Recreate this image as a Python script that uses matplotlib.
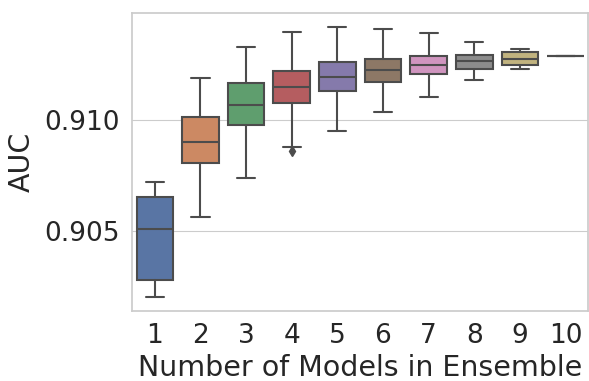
import matplotlib
matplotlib.use("Agg")
import matplotlib.pyplot as plt
import seaborn as sns

n_models = [1, 2, 3, 4, 5, 6, 7, 8, 9, 10]
whislo = [0.90203, 0.90564, 0.90739, 0.90880, 0.90952, 0.91035, 0.91104, 0.91180, 0.91231, 0.91287]
q1 = [0.90279, 0.90805, 0.90976, 0.91077, 0.91132, 0.91171, 0.91206, 0.91230, 0.91248, 0.91287]
med = [0.90509, 0.90902, 0.91069, 0.91150, 0.91192, 0.91227, 0.91249, 0.91264, 0.91276, 0.91287]
q3 = [0.90655, 0.91012, 0.91167, 0.91219, 0.91261, 0.91276, 0.91288, 0.91293, 0.91305, 0.91287]
whishi = [0.90722, 0.91189, 0.91329, 0.91395, 0.91419, 0.91409, 0.91392, 0.91353, 0.91320, 0.91287]
fliers = [[], [], [], [0.90860], [], [], [], [], [], []]

sns.set_style("whitegrid")
plt.rcParams["font.family"] = ["DejaVu Sans"]

colors = [sns.desaturate(c, 0.75) for c in sns.color_palette("deep", 10)]
gray = "#4c4c4c"

stats = []
for i in range(len(n_models)):
    stats.append(dict(whislo=whislo[i], q1=q1[i], med=med[i], q3=q3[i],
                      whishi=whishi[i], fliers=fliers[i], label=str(n_models[i])))

fig = plt.figure(figsize=(5.89, 3.81), dpi=100)
ax = fig.add_axes([0.224, 0.184, 0.775, 0.782])

lw = 1.5
bp = ax.bxp(stats, positions=range(len(n_models)), widths=0.8, patch_artist=True,
            boxprops=dict(edgecolor=gray, linewidth=lw),
            medianprops=dict(color=gray, linewidth=lw),
            whiskerprops=dict(color=gray, linewidth=lw),
            capprops=dict(color=gray, linewidth=lw),
            flierprops=dict(marker="d", markerfacecolor=gray, markeredgecolor=gray,
                            markersize=5))
for patch, c in zip(bp["boxes"], colors):
    patch.set_facecolor(c)

ax.set_xlim(-0.5, 9.5)
ax.set_ylim(0.90140, 0.91482)
ax.set_yticks([0.905, 0.910])
ax.set_yticklabels(["0.905", "0.910"])
ax.set_xticks(range(len(n_models)))
ax.set_xticklabels([str(n) for n in n_models])
ax.tick_params(labelsize=19, length=0, pad=9)
ax.xaxis.grid(False)
ax.set_axisbelow(True)
for s in ax.spines.values():
    s.set_color("#cccccc")
    s.set_linewidth(1.25)

ax.set_xlabel("Number of Models in Ensemble", fontsize=20.5, labelpad=3)
ax.set_ylabel("AUC", fontsize=20.5, labelpad=6)

fig.savefig("out.png", dpi=100)
